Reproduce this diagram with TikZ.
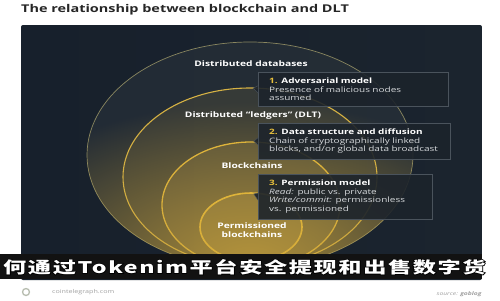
\documentclass[tikz,border=0pt]{standalone}
\usepackage{fontspec}
\setmainfont{Open Sans}[FakeStretch=1.35]
\newfontfamily\cjkfont{Noto Sans CJK SC}[FakeStretch=1.45,LetterSpace=10]
\newfontfamily\cjkout{Noto Sans CJK SC}[FakeStretch=1.45,LetterSpace=10,FakeBold=8]
\usetikzlibrary{shapes.geometric,calc,fadings}

\definecolor{titlec}{HTML}{262626}
\definecolor{pleft}{HTML}{17202C}
\definecolor{pmid}{HTML}{242E38}
\definecolor{pright}{HTML}{1B242E}
\definecolor{goldc}{HTML}{B89A48}
\definecolor{greyc}{HTML}{8A9590}
\definecolor{glowc}{HTML}{C9A23A}
\definecolor{e1c}{HTML}{8A8760}
\definecolor{e2c}{HTML}{D6B244}
\definecolor{e3c}{HTML}{E3B83C}
\definecolor{e4c}{HTML}{F0C23A}
\definecolor{boxfill}{HTML}{1C232B}
\definecolor{boxdraw}{HTML}{4A535C}
\definecolor{numc}{HTML}{E9C13C}
\definecolor{bodyc}{HTML}{D6D9DC}
\definecolor{footc}{HTML}{A0A0A0}
\definecolor{logoc}{HTML}{B8BDB0}

\tikzfading[name=glowfade, inner color=transparent!25, outer color=transparent!100]

\begin{document}
\begin{tikzpicture}[x=1pt,y=-1pt,
  ell/.style={ellipse, inner sep=0pt, draw, fill=goldc},
  lab/.style={font=\fontsize{7.6}{8.6}\selectfont\bfseries, text=white, inner sep=0pt, align=center},
  box/.style={draw=boxdraw, line width=0.4pt, fill=boxfill, fill opacity=0.9, text opacity=1,
    anchor=north west, align=left, inner xsep=11pt, inner ysep=5.5pt,
    font=\fontsize{7.4}{8.8}\selectfont, text=bodyc},
  ptr/.style={fill=boxfill, fill opacity=0.9},
  ptredge/.style={draw=boxdraw, line width=0.4pt},
  cjktext/.style={anchor=west, inner sep=0pt, font=\cjkfont\bfseries\fontsize{16}{18}\selectfont},
  cjkback/.style={anchor=west, inner sep=0pt, font=\cjkout\bfseries\fontsize{16}{18}\selectfont},
]
\useasboundingbox (0,0) rectangle (500,300);
\fill[white] (0,0) rectangle (500,300);

% title
\node[anchor=west, inner sep=0pt, font=\fontsize{10.7}{13}\selectfont\bfseries, text=titlec] (title) at (21,10) {The relationship between blockchain and DLT};

% panel
\begin{scope}
  \clip[rounded corners=2pt] (21,25) rectangle (482,280);
  \shade[left color=pleft, middle color=pmid, right color=pright] (21,25) rectangle (482,280);
\end{scope}

% nested ellipses
\node[ell, draw=e1c, fill=greyc, fill opacity=0.09, line width=0.7pt, minimum width=326pt, minimum height=226pt] (e1) at (250,155) {};
\node[ell, draw=e2c, fill opacity=0.13, line width=1.1pt, minimum width=254pt, minimum height=178pt] (e2) at (250,177) {};
\node[ell, draw=e3c, fill opacity=0.2, line width=1.3pt, minimum width=178pt, minimum height=126pt] (e3) at (251,205) {};
\node[ell, draw=e4c, fill opacity=0.3, line width=1.6pt, minimum width=102pt, minimum height=68pt] (e4) at (251,227) {};
\begin{scope}
  \clip (e1.center) ellipse [x radius=163pt, y radius=113pt];
  \fill[glowc, path fading=glowfade] (250,262) ellipse [x radius=290pt, y radius=160pt];
\end{scope}

% labels
\node[lab] (l1) at (251,64) {Distributed databases};
\node[lab] (l2) at (253,116) {Distributed ``ledgers'' (DLT)};
\node[lab] (l3) at (252,166) {Blockchains};
\node[lab] (l4) at (252,230) {Permissioned\\blockchains};

% boxes
\node[box, text width=168pt] (b1) at (258,72) {\textcolor{numc}{\bfseries 1.} \textcolor{white}{\bfseries Adversarial model}\\Presence of malicious nodes\\assumed};
\node[box, text width=170pt] (b2) at (258,123) {\textcolor{numc}{\bfseries 2.} \textcolor{white}{\bfseries Data structure and diffusion}\\Chain of cryptographically linked\\blocks, and/or global data broadcast};
\node[box, text width=152pt] (b3) at (258,174) {\textcolor{numc}{\bfseries 3.} \textcolor{white}{\bfseries Permission model}\\\textit{Read:} public vs. private\\\textit{Write/commit:} permissionless\\vs. permissioned};

% pointers
\foreach \b/\e in {b1/e2, b2/e3, b3/e4}{
  \path[ptr] ($(\b.west)+(0,-3.5)$) -- ($(\b.west)!0.6!(\e.north)$) -- ($(\b.west)+(0,3.5)$) -- cycle;
  \draw[ptredge] ($(\b.west)+(0,-3.5)$) -- ($(\b.west)!0.6!(\e.north)$) -- ($(\b.west)+(0,3.5)$);
}

% banner
\fill[black!93] (0,254) rectangle (482,279);
\node[cjkback, text=black] (cnb) at (3,267) {何通过Tokenim平台安全提现和出售数字货};
\node[cjktext, text=white] (cn) at (3,267) {何通过Tokenim平台安全提现和出售数字货};

% footer
\node[circle, draw=logoc, line width=1.3pt, minimum size=7pt, inner sep=0pt] (logo) at (26,292) {};
\node[anchor=west, inner sep=0pt, font=\fontsize{5.3}{6}\selectfont, text=footc] (site) at (52,292) {cointelegraph.com};
\node[anchor=east, inner sep=0pt, font=\fontsize{5}{6}\selectfont, text=footc] (src) at (482,294) {\textit{source:} \textbf{\textit{goblog}}};
\end{tikzpicture}
\end{document}
